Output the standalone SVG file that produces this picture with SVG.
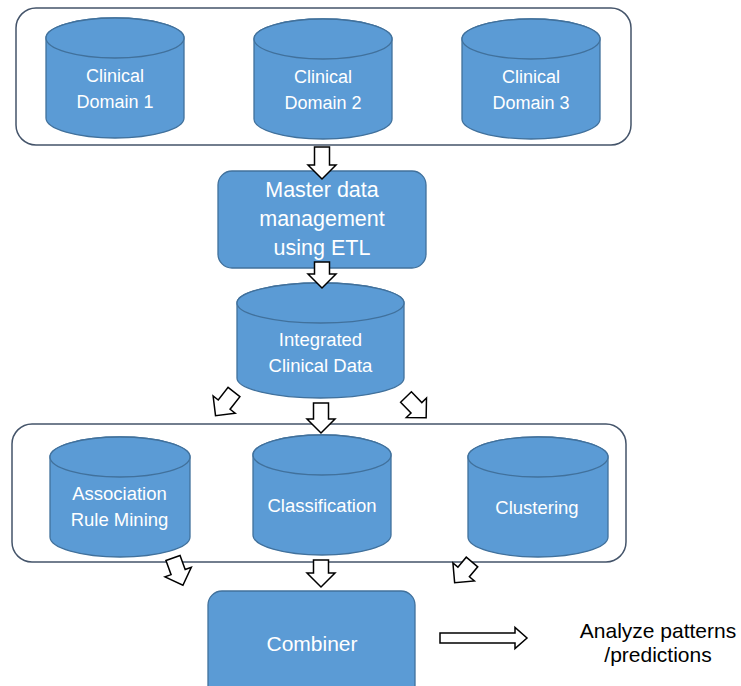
<svg xmlns="http://www.w3.org/2000/svg" width="741" height="686" viewBox="0 0 741 686">
<style>
.cont{fill:#ffffff;stroke:#44546a;stroke-width:1.5}
.cyl{fill:#5b9bd5;stroke:#41719c;stroke-width:1.3}
.box{fill:#5b9bd5;stroke:#41719c;stroke-width:1.3}
.t{fill:#ffffff;font-family:"Liberation Sans",Arial,sans-serif;text-anchor:middle}
.arr{fill:#ffffff;stroke:#000000;stroke-width:1.5;stroke-linejoin:miter}
.lbl{fill:#000000;font-family:"Liberation Sans",Arial,sans-serif;font-size:21px;text-anchor:middle}
</style>
<rect width="741" height="686" fill="#ffffff"/>
<g id="domains-container">
<rect class="cont" x="16" y="8" width="615" height="137" rx="20"/>
</g>
<g id="cd1">
<path class="cyl" d="M46,38 V118 A69,20 0 0 0 184,118 V38 A69,20 0 0 0 46,38 Z"/>
<ellipse class="cyl" cx="115" cy="38" rx="69" ry="20"/>
<text class="t" font-size="18" x="115" y="82">Clinical</text>
<text class="t" font-size="18" x="115" y="108">Domain 1</text>
</g>
<g id="cd2">
<path class="cyl" d="M254,39 V119 A69,20 0 0 0 392,119 V39 A69,20 0 0 0 254,39 Z"/>
<ellipse class="cyl" cx="323" cy="39" rx="69" ry="20"/>
<text class="t" font-size="18" x="323" y="83">Clinical</text>
<text class="t" font-size="18" x="323" y="109">Domain 2</text>
</g>
<g id="cd3">
<path class="cyl" d="M462,39 V119 A69,20 0 0 0 600,119 V39 A69,20 0 0 0 462,39 Z"/>
<ellipse class="cyl" cx="531" cy="39" rx="69" ry="20"/>
<text class="t" font-size="18" x="531" y="83">Clinical</text>
<text class="t" font-size="18" x="531" y="109">Domain 3</text>
</g>
<g id="mdm">
<rect class="box" x="218" y="171" width="208" height="97" rx="14"/>
<text class="t" font-size="21.5" x="322" y="197">Master data</text>
<text class="t" font-size="21.5" x="322" y="226">management</text>
<text class="t" font-size="21.5" x="322" y="255">using ETL</text>
</g>
<g id="integrated">
<path class="cyl" d="M237,303 V378 A83.5,20 0 0 0 404,378 V303 A83.5,20 0 0 0 237,303 Z"/>
<ellipse class="cyl" cx="320.5" cy="303" rx="83.5" ry="20"/>
<text class="t" font-size="18.5" x="320.5" y="346">Integrated</text>
<text class="t" font-size="18.5" x="320.5" y="372">Clinical Data</text>
</g>
<g id="methods-container">
<rect class="cont" x="12" y="424" width="614" height="138" rx="20"/>
</g>
<g id="assoc">
<path class="cyl" d="M50,457 V537 A70,20 0 0 0 190,537 V457 A70,20 0 0 0 50,457 Z"/>
<ellipse class="cyl" cx="120" cy="457" rx="70" ry="20"/>
<text class="t" font-size="18.5" x="119.5" y="500">Association</text>
<text class="t" font-size="18.5" x="119.5" y="526">Rule Mining</text>
</g>
<g id="classif">
<path class="cyl" d="M253,455 V535 A69,20 0 0 0 391,535 V455 A69,20 0 0 0 253,455 Z"/>
<ellipse class="cyl" cx="322" cy="455" rx="69" ry="20"/>
<text class="t" font-size="18.5" x="322" y="512">Classification</text>
</g>
<g id="cluster">
<path class="cyl" d="M468,457 V537 A70,20 0 0 0 608,537 V457 A70,20 0 0 0 468,457 Z"/>
<ellipse class="cyl" cx="538" cy="457" rx="70" ry="20"/>
<text class="t" font-size="18.5" x="537" y="514">Clustering</text>
</g>
<g id="combiner">
<rect class="box" x="208" y="591" width="207" height="111" rx="14"/>
<text class="t" font-size="21" x="312" y="651">Combiner</text>
</g>
<g id="output">
<text class="lbl" x="658" y="638">Analyze patterns</text>
<text class="lbl" x="658" y="662">/predictions</text>
</g>
<g id="connectors">
<path class="arr" transform="translate(322,147)" d="M-7.5,0 H7.5 V18 H14 L0,32 L-14,18 H-7.5 Z"/>
<path class="arr" transform="translate(322,262)" d="M-7.5,0 H7.5 V12 H14 L0,26 L-14,12 H-7.5 Z"/>
<path class="arr" transform="translate(234,392) rotate(38)" d="M-7.5,0 H7.5 V16 H14 L0,30 L-14,16 H-7.5 Z"/>
<path class="arr" transform="translate(321,403)" d="M-7.5,0 H7.5 V16 H14 L0,30 L-14,16 H-7.5 Z"/>
<path class="arr" transform="translate(406,397) rotate(-44)" d="M-7.5,0 H7.5 V15 H14 L0,29 L-14,15 H-7.5 Z"/>
<path class="arr" transform="translate(173,558) rotate(-20)" d="M-7.5,0 H7.5 V15 H14 L0,29 L-14,15 H-7.5 Z"/>
<path class="arr" transform="translate(321,560)" d="M-7.5,0 H7.5 V13 H14 L0,27 L-14,13 H-7.5 Z"/>
<path class="arr" transform="translate(472,562) rotate(40)" d="M-7.5,0 H7.5 V13 H14 L0,27 L-14,13 H-7.5 Z"/>
<path class="arr" transform="translate(440,638) rotate(-90)" d="M-5,0 H5 V75 H10.5 L0,87 L-10.5,75 H-5 Z"/>
</g>
</svg>
